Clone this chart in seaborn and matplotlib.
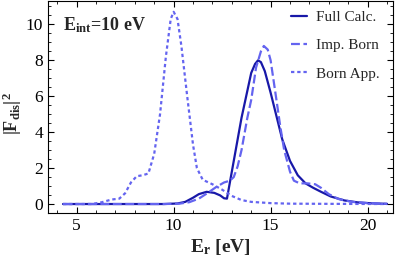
import matplotlib
matplotlib.use("Agg")
import matplotlib.pyplot as plt
import seaborn as sns
import pandas as pd
from matplotlib.ticker import MultipleLocator

sns.set_theme(style="white")
plt.rcParams['font.family'] = ['Liberation Serif', 'DejaVu Serif']
plt.rcParams['mathtext.fontset'] = 'custom'
plt.rcParams['mathtext.rm'] = 'Liberation Serif'
plt.rcParams['mathtext.bf'] = 'Liberation Serif:bold'

# Full calculation
full_x = [4.3, 6, 8, 9.5, 10.2, 10.6, 11.0, 11.3, 11.7, 12.1, 12.4, 12.6, 12.75, 12.9, 13.2, 13.5, 13.7, 14.0,
          14.2, 14.35, 14.5, 14.7, 15.0, 15.3, 15.6, 16.0, 16.4, 16.8, 17.2, 17.6, 18.1, 18.8, 19.5, 20.2, 21.0]
full_y = [0, 0, 0, 0, 0.03, 0.12, 0.35, 0.55, 0.68, 0.62, 0.48, 0.32, 0.3, 1.2, 3.0, 4.8, 5.8, 7.3,
          7.8, 8.0, 7.9, 7.4, 6.2, 4.9, 3.6, 2.4, 1.6, 1.15, 0.9, 0.68, 0.42, 0.2, 0.09, 0.04, 0.01]

# Improved Born
imp_x = [4.3, 6, 8, 9.5, 10.3, 10.8, 11.3, 11.8, 12.2, 12.6, 12.9, 13.1, 13.3, 13.5, 13.8, 14.0, 14.25,
         14.5, 14.65, 14.85, 15.0, 15.3, 15.5, 15.7, 16.0, 16.2, 16.5, 16.9, 17.3, 17.6, 18.0, 18.5, 19.2, 20.0, 21.0]
imp_y = [0, 0, 0, 0, 0.02, 0.1, 0.3, 0.65, 0.95, 1.2, 1.3, 1.5, 2.1, 3.0, 4.8, 5.8, 7.6,
         8.5, 8.8, 8.6, 8.0, 5.8, 4.3, 3.0, 1.8, 1.3, 1.15, 1.15, 1.1, 0.9, 0.55, 0.28, 0.12, 0.05, 0.01]

# Born approximation
born_x = [4.3, 5.8, 6.3, 6.8, 7.2, 7.5, 7.8, 8.1, 8.4, 8.7, 9.0, 9.3, 9.6, 9.85, 10.0, 10.2, 10.4, 10.7,
          11.0, 11.2, 11.5, 12.0, 12.5, 13.0, 13.5, 14.0, 15.0, 16.0, 18.0, 21.0]
born_y = [0, 0, 0.1, 0.25, 0.3, 0.6, 1.2, 1.55, 1.6, 1.7, 2.8, 5.0, 8.2, 10.3, 10.7, 10.3, 8.8, 6.0,
          3.3, 2.0, 1.35, 1.1, 0.8, 0.45, 0.22, 0.12, 0.05, 0.02, 0.01, 0.0]

df = pd.concat([
    pd.DataFrame({"E": full_x, "F": full_y, "series": "Full Calc."}),
    pd.DataFrame({"E": imp_x, "F": imp_y, "series": "Imp. Born"}),
    pd.DataFrame({"E": born_x, "F": born_y, "series": "Born App."}),
])

fig = plt.figure(figsize=(3.96, 2.62), dpi=100)
ax = fig.add_axes([0.121, 0.187, 0.871, 0.811])

palette = {"Full Calc.": "#1818a8", "Imp. Born": "#6464f0", "Born App.": "#6464f0"}
dashes = {"Full Calc.": "", "Imp. Born": (4, 1.6), "Born App.": (1.5, 1.3)}
sns.lineplot(data=df, x="E", y="F", hue="series", style="series", palette=palette,
             dashes=dashes, sort=False, ax=ax, linewidth=1.6, estimator=None)

ax.set_xlim(3.52, 21.3)
ax.set_ylim(-0.5, 11.33)
ax.xaxis.set_major_locator(MultipleLocator(5))
ax.xaxis.set_minor_locator(MultipleLocator(1))
ax.yaxis.set_major_locator(MultipleLocator(2))
ax.yaxis.set_minor_locator(MultipleLocator(0.5))
ax.tick_params(which='both', direction='in', top=True, right=True, labelsize=12.5, colors='black',
               bottom=True, left=True)
ax.tick_params(which='major', length=4, width=0.8)
ax.tick_params(which='minor', length=2, width=0.6)
for s in ax.spines.values():
    s.set_color('black')
    s.set_linewidth(0.8)

ax.set_xlabel(r"$\mathbf{E_r}$ [eV]", fontsize=14, fontweight='bold', labelpad=2)
ax.set_ylabel(r"$\mathbf{|F_{dis}|^2}$", fontsize=13, fontweight='bold')
ax.yaxis.set_label_coords(-0.068, 0.47)

ax.text(0.045, 0.885, r"$\mathbf{E_{int}}$=10 eV", transform=ax.transAxes, fontsize=13,
        fontweight='bold', va='center', ha='left')

leg = ax.legend(loc='upper right', frameon=False, fontsize=11, handlelength=1.1,
                borderaxespad=0.25, labelspacing=0.95, handletextpad=0.55,
                bbox_to_anchor=(0.99, 1.0))
for h in leg.get_lines():
    h.set_linewidth(1.6)

fig.savefig("out.png", dpi=100)
